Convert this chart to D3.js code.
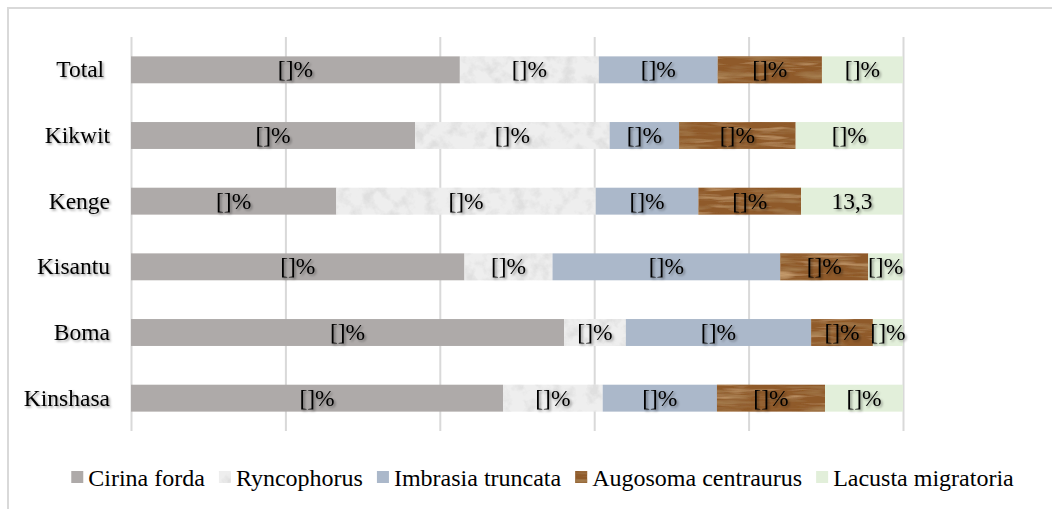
<!DOCTYPE html>
<html><head><meta charset="utf-8">
<script src="https://cdn.jsdelivr.net/npm/d3@7"></script>
<style>
body{margin:0;background:#fff}
svg{display:block}
text{font-family:"Liberation Serif","Times New Roman","DejaVu Serif",serif;}
</style>
</head><body>
<svg id="chart" width="1052" height="509"></svg>
<script>
// ---- data ----
const categories = ["Total", "Kikwit", "Kenge", "Kisantu", "Boma", "Kinshasa"];
const seriesNames = ["Cirina forda", "Ryncophorus", "Imbrasia truncata", "Augosoma centraurus", "Lacusta migratoria"];
const cirinaForda        = [42.6, 36.8, 26.6, 43.2, 56.1, 48.2];
const ryncophorus        = [18.0, 25.2, 33.6, 11.4,  8.0, 12.9];
const imbrasiaTruncata   = [15.4,  9.0, 13.3, 29.5, 24.0, 14.8];
const augosomaCentraurus = [13.5, 15.1, 13.3, 11.4,  8.0, 14.0];
const lacustaMigratoria  = [10.5, 13.9, 13.2,  4.5,  3.9, 10.1];
const defaultLabel = "[]%";
const lacustaLabels = ["[]%", "[]%", "13,3", "[]%", "[]%", "[]%"];
const gridTicks = [0, 0.2, 0.4, 0.6, 0.8, 1.0];

const seriesValues = [cirinaForda, ryncophorus, imbrasiaTruncata, augosomaCentraurus, lacustaMigratoria];
const seriesLabels = [null, null, null, null, lacustaLabels];
const seriesFill = ["#aeaaa9", "#eeeeee", "#abb8ca", "#8f5a2b", "#e2efda"];
const seriesFilter = [null, "url(#granite)", null, "url(#wood)", null];

const svg = d3.select("#chart");

// ---- defs: textures and shadow ----
const defs = svg.append("defs");
defs.html(`
<filter id="granite" x="0" y="0" width="1" height="1">
  <feTurbulence type="fractalNoise" baseFrequency="0.08" numOctaves="4" seed="7" result="n"/>
  <feColorMatrix in="n" type="matrix" values="0 0 0 0 0.74  0 0 0 0 0.74  0 0 0 0 0.74  3.2 0 0 0 -1.45" result="spots"/>
  <feComposite in="spots" in2="SourceAlpha" operator="in" result="clip"/>
  <feMerge><feMergeNode in="SourceGraphic"/><feMergeNode in="clip"/></feMerge>
</filter>
<filter id="wood" x="0" y="0" width="1" height="1">
  <feTurbulence type="fractalNoise" baseFrequency="0.02 0.18" numOctaves="3" seed="3" result="n"/>
  <feColorMatrix in="n" type="matrix" values="0 0 0 0 0.38  0 0 0 0 0.21  0 0 0 0 0.08  2.6 0 0 0 -1.2" result="dark"/>
  <feColorMatrix in="n" type="matrix" values="0 0 0 0 0.68  0 0 0 0 0.43  0 0 0 0 0.21  0 -2.4 0 0 1.05" result="light"/>
  <feComposite in="dark" in2="SourceAlpha" operator="in" result="d2"/>
  <feComposite in="light" in2="SourceAlpha" operator="in" result="l2"/>
  <feMerge><feMergeNode in="SourceGraphic"/><feMergeNode in="l2"/><feMergeNode in="d2"/></feMerge>
</filter>
<filter id="shadow" x="-20%" y="-20%" width="140%" height="140%">
  <feDropShadow dx="1.6" dy="1.6" stdDeviation="1" flood-color="#000" flood-opacity="0.38"/>
</filter>`);

// ---- outer chart border ----
svg.append("rect").attr("x", 8).attr("y", 8).attr("width", 1200).attr("height", 800)
  .attr("fill", "#fff").attr("stroke", "#d9d9d9").attr("stroke-width", 2);

// ---- scales ----
const x = d3.scaleLinear().domain([0, 1]).range([131, 903]);
const y = d3.scaleBand().domain(categories).range([37, 431]).paddingInner(0.59).paddingOuter(0.295);

// ---- gridlines ----
const grid = svg.append("g").attr("transform", "translate(0,431)")
  .call(d3.axisBottom(x).tickValues(gridTicks).tickSize(-(431 - 37)).tickFormat(""));
grid.select(".domain").remove();
grid.selectAll(".tick line").attr("stroke", "#d9d9d9").attr("stroke-width", 2);

// ---- stack ----
const rows = categories.map((c, i) => {
  const r = { cat: c, idx: i };
  seriesNames.forEach((s, k) => r[s] = seriesValues[k][i]);
  return r;
});
const stacked = d3.stack().keys(seriesNames).offset(d3.stackOffsetExpand)(rows);

const layers = svg.append("g").selectAll("g").data(stacked).join("g");
layers.each(function (layer, k) {
  d3.select(this).selectAll("rect").data(layer).join("rect")
    .attr("x", d => x(d[0]))
    .attr("y", d => y(d.data.cat))
    .attr("width", d => x(d[1]) - x(d[0]))
    .attr("height", y.bandwidth())
    .attr("fill", seriesFill[k])
    .attr("filter", seriesFilter[k]);
});

// ---- data labels ----
const labelG = svg.append("g").attr("filter", "url(#shadow)");
stacked.forEach((layer, k) => {
  labelG.append("g").selectAll("text").data(layer).join("text")
    .attr("x", d => (x(d[0]) + x(d[1])) / 2)
    .attr("y", d => y(d.data.cat) + y.bandwidth() / 2 + 7.5)
    .attr("text-anchor", "middle")
    .attr("font-size", "23.5px")
    .attr("fill", "#000")
    .text(d => seriesLabels[k] ? seriesLabels[k][d.data.idx] : defaultLabel);
});

// ---- category axis ----
const yAxis = svg.append("g").attr("transform", "translate(131,0)").attr("filter", "url(#shadow)")
  .call(d3.axisLeft(y).tickSize(0).tickPadding(21).tickFormat(d => d === "Total" ? "Total\u00a0" : d));
yAxis.select(".domain").remove();
yAxis.attr("font-family", null);
yAxis.selectAll("text")
  .attr("font-size", "23.5px").attr("fill", "#000")
  .attr("dy", null).attr("y", 7.5);

// ---- legend ----
const legend = svg.append("g");
const items = legend.selectAll("g").data(seriesNames).join("g");
items.append("rect").attr("width", 12).attr("height", 12).attr("y", 471)
  .attr("fill", (d, k) => seriesFill[k])
  .attr("filter", (d, k) => seriesFilter[k]);
items.append("text").attr("x", 17).attr("y", 485.5)
  .attr("font-size", "24px").attr("fill", "#000").text(d => d);
const widths = [];
items.each(function () { widths.push(17 + this.querySelector("text").getComputedTextLength()); });
const gap = 14;
const total = d3.sum(widths) + gap * (widths.length - 1);
let cx = 542.5 - total / 2;
items.each(function (d, k) {
  d3.select(this).attr("transform", `translate(${cx},0)`);
  cx += widths[k] + gap;
});
</script>
</body></html>
